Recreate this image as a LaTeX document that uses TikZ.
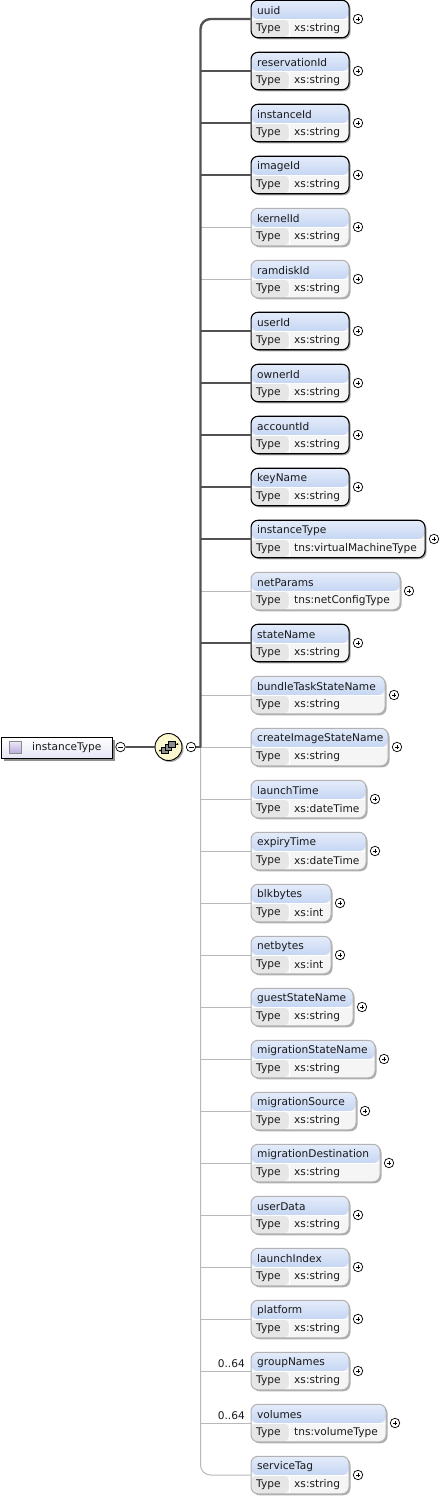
\documentclass[tikz,border=0pt]{standalone}
\usepackage{fontspec}
\setmainfont{DejaVu Sans}
\usetikzlibrary{shadows}

\definecolor{headtop}{HTML}{E4ECFA}
\definecolor{headbot}{HTML}{A8C0EC}
\definecolor{typecell}{HTML}{E6E6E6}
\definecolor{valcell}{HTML}{F5F5F5}
\definecolor{seqfill}{HTML}{FBF8CF}
\definecolor{rootbot}{HTML}{E6E6F6}
\definecolor{icontop}{HTML}{EDE8F8}
\definecolor{iconbot}{HTML}{B9A8DC}

% #1 name, #2 y, #3 width, #4 style, #5 title, #6 type
\newcommand{\elem}[6]{%
  \node (#1) [#4, minimum width=#3pt] at (250.5,#2) {};
  \node (#1-title) [eltext] at (257,#2-8.5) {#5};
  \node (#1-key) [eltext] at (256,#2+10) {Type};
  \node (#1-type) [eltext] at (294,#2+10) {#6};
  \node (#1-plus) [plusbtn] at (250+#3+10,#2) {};
}

\begin{document}
\begin{tikzpicture}[x=1pt,y=-1pt]

% definitions
\tikzstyle{eltext} = [anchor=west, inner sep=0pt, font=\fontsize{10.6}{12}\selectfont, text=black!90]

\tikzstyle{elbox} = [rectangle, anchor=west, minimum height=37.5pt, inner sep=0pt, rounded corners=7pt, fill=valcell,
  path picture={
    \fill [top color=headtop, bottom color=headbot] (path picture bounding box.north west) rectangle (path picture bounding box.east);
    \fill [typecell] (path picture bounding box.west) rectangle ([xshift=38pt]path picture bounding box.south west);
    \draw [white, line width=1pt] ([xshift=38pt]path picture bounding box.west) -- ([xshift=38pt]path picture bounding box.south west);
    \draw [white, line width=0.8pt] (path picture bounding box.west) -- (path picture bounding box.east);
  }]

\tikzstyle{reqbox} = [elbox, draw=black, line width=1.1pt, drop shadow={shadow xshift=1.5pt, shadow yshift=-1.5pt, fill=black!50, opacity=0.7}]

\tikzstyle{optbox} = [elbox, draw=black!30, line width=1pt, drop shadow={shadow xshift=1.5pt, shadow yshift=-1.5pt, fill=black!45, opacity=0.7}]

\tikzstyle{plusbtn} = [circle, draw=black, fill=white, line width=0.7pt, minimum size=9.5pt, inner sep=0pt,
  path picture={
    \draw [line width=0.6pt] ([xshift=-2.2pt]path picture bounding box.center) -- ([xshift=2.2pt]path picture bounding box.center);
    \draw [line width=0.6pt] ([yshift=-2.2pt]path picture bounding box.center) -- ([yshift=2.2pt]path picture bounding box.center);
  }]

\tikzstyle{minusbtn} = [circle, draw=black, fill=white, line width=0.7pt, minimum size=9.5pt, inner sep=0pt,
  path picture={
    \draw [line width=0.6pt] ([xshift=-2.5pt]path picture bounding box.center) -- ([xshift=2.5pt]path picture bounding box.center);
  }]

\tikzstyle{reqline} = [draw=black!68, line width=2.4pt]
\tikzstyle{optline} = [draw=black!28, line width=1pt]
\tikzstyle{rootbox} = [rectangle, draw=black, line width=1pt, top color=white, bottom color=rootbot, drop shadow={shadow xshift=2.5pt, shadow yshift=-2.5pt, fill=black!55, opacity=0.8}]
\tikzstyle{multi} = [anchor=east, inner sep=0pt, font=\fontsize{10.6}{12}\selectfont, text=black!90]
\tikzstyle{cube} = [rectangle, draw=black, fill=black!45, line width=0.6pt, minimum size=6.5pt, inner sep=0pt]

\useasboundingbox (0,0) rectangle (441,1500);

% the graph
\node (root) [rootbox, anchor=west, minimum width=111pt, minimum height=21pt, inner sep=0pt] at (0.5,747.5) {};
\node (root-icon) [rectangle, draw=black!45, line width=0.8pt, top color=icontop, bottom color=iconbot, minimum size=12.5pt, inner sep=0pt] at (15.5,747.5) {};
\node (root-name) [eltext] at (32,747.5) {instanceType};
\node (root-minus) [minusbtn] at (120.5,747) {};

\node (seq) [circle, draw=black, line width=0.9pt, fill=seqfill, minimum size=27pt, inner sep=0pt, drop shadow={shadow xshift=1.5pt, shadow yshift=-1.5pt, fill=black!50, opacity=0.7}] at (168.5,747) {};
\node (seq-minus) [minusbtn] at (191,747) {};
\coordinate (spine) at (200.5,747);

\elem{uuid}{19}{98}{reqbox}{uuid}{xs:string}
\elem{reservationId}{71}{98}{reqbox}{reservationId}{xs:string}
\elem{instanceId}{123}{98}{reqbox}{instanceId}{xs:string}
\elem{imageId}{175}{98}{reqbox}{imageId}{xs:string}
\elem{kernelId}{227}{98}{optbox}{kernelId}{xs:string}
\elem{ramdiskId}{279}{98}{optbox}{ramdiskId}{xs:string}
\elem{userId}{331}{98}{reqbox}{userId}{xs:string}
\elem{ownerId}{383}{98}{reqbox}{ownerId}{xs:string}
\elem{accountId}{435}{98}{reqbox}{accountId}{xs:string}
\elem{keyName}{487}{98}{reqbox}{keyName}{xs:string}
\elem{instanceType}{539}{174}{reqbox}{instanceType}{tns:virtualMachineType}
\elem{netParams}{591}{149}{optbox}{netParams}{tns:netConfigType}
\elem{stateName}{643}{98}{reqbox}{stateName}{xs:string}
\elem{bundleTaskStateName}{695}{134}{optbox}{bundleTaskStateName}{xs:string}
\elem{createImageStateName}{747}{137}{optbox}{createImageStateName}{xs:string}
\elem{launchTime}{799}{115}{optbox}{launchTime}{xs:dateTime}
\elem{expiryTime}{851}{115}{optbox}{expiryTime}{xs:dateTime}
\elem{blkbytes}{903}{80}{optbox}{blkbytes}{xs:int}
\elem{netbytes}{955}{80}{optbox}{netbytes}{xs:int}
\elem{guestStateName}{1007}{102}{optbox}{guestStateName}{xs:string}
\elem{migrationStateName}{1059}{124}{optbox}{migrationStateName}{xs:string}
\elem{migrationSource}{1111}{105}{optbox}{migrationSource}{xs:string}
\elem{migrationDestination}{1163}{129}{optbox}{migrationDestination}{xs:string}
\elem{userData}{1215}{98}{optbox}{userData}{xs:string}
\elem{launchIndex}{1267}{98}{optbox}{launchIndex}{xs:string}
\elem{platform}{1319}{98}{optbox}{platform}{xs:string}
\elem{groupNames}{1371}{98}{optbox}{groupNames}{xs:string}
\elem{volumes}{1423}{135}{optbox}{volumes}{tns:volumeType}
\elem{serviceTag}{1475}{98}{optbox}{serviceTag}{xs:string}

\node (groupNames-multi) [multi] at (245,1364) {0..64};
\node (volumes-multi) [multi] at (245,1416) {0..64};

% optional connectors
\draw [optline, rounded corners=10pt] (spine) |- (serviceTag.west);
\draw [optline] (spine) -- (createImageStateName.west);
\draw [optline] (spine |- kernelId.west) -- (kernelId.west);
\draw [optline] (spine |- ramdiskId.west) -- (ramdiskId.west);
\draw [optline] (spine |- netParams.west) -- (netParams.west);
\draw [optline] (spine |- bundleTaskStateName.west) -- (bundleTaskStateName.west);
\draw [optline] (spine |- launchTime.west) -- (launchTime.west);
\draw [optline] (spine |- expiryTime.west) -- (expiryTime.west);
\draw [optline] (spine |- blkbytes.west) -- (blkbytes.west);
\draw [optline] (spine |- netbytes.west) -- (netbytes.west);
\draw [optline] (spine |- guestStateName.west) -- (guestStateName.west);
\draw [optline] (spine |- migrationStateName.west) -- (migrationStateName.west);
\draw [optline] (spine |- migrationSource.west) -- (migrationSource.west);
\draw [optline] (spine |- migrationDestination.west) -- (migrationDestination.west);
\draw [optline] (spine |- userData.west) -- (userData.west);
\draw [optline] (spine |- launchIndex.west) -- (launchIndex.west);
\draw [optline] (spine |- platform.west) -- (platform.west);
\draw [optline] (spine |- groupNames.west) -- (groupNames.west);
\draw [optline] (spine |- volumes.west) -- (volumes.west);

% required connectors
\draw [reqline, rounded corners=10pt] (spine) |- (uuid.west);
\draw [reqline] (spine |- reservationId.west) -- (reservationId.west);
\draw [reqline] (spine |- instanceId.west) -- (instanceId.west);
\draw [reqline] (spine |- imageId.west) -- (imageId.west);
\draw [reqline] (spine |- userId.west) -- (userId.west);
\draw [reqline] (spine |- ownerId.west) -- (ownerId.west);
\draw [reqline] (spine |- accountId.west) -- (accountId.west);
\draw [reqline] (spine |- keyName.west) -- (keyName.west);
\draw [reqline] (spine |- instanceType.west) -- (instanceType.west);
\draw [reqline] (spine |- stateName.west) -- (stateName.west);

\draw [reqline] (root-minus) -- (seq);
\draw [reqline] (seq-minus) -- (spine);

% compositor icon
\coordinate (seq-in) at (160,750.5);
\coordinate (seq-out) at (177.5,744);
\draw [line width=0.6pt] (seq-in) -- (seq-out);
\fill (seq-in) circle (1pt);
\fill (seq-out) circle (1pt);
\node (cube-a) [cube] at (165,750.5) {};
\node (cube-b) [cube] at (168.5,747.5) {};
\node (cube-c) [cube] at (172,744.5) {};

\end{tikzpicture}
\end{document}
